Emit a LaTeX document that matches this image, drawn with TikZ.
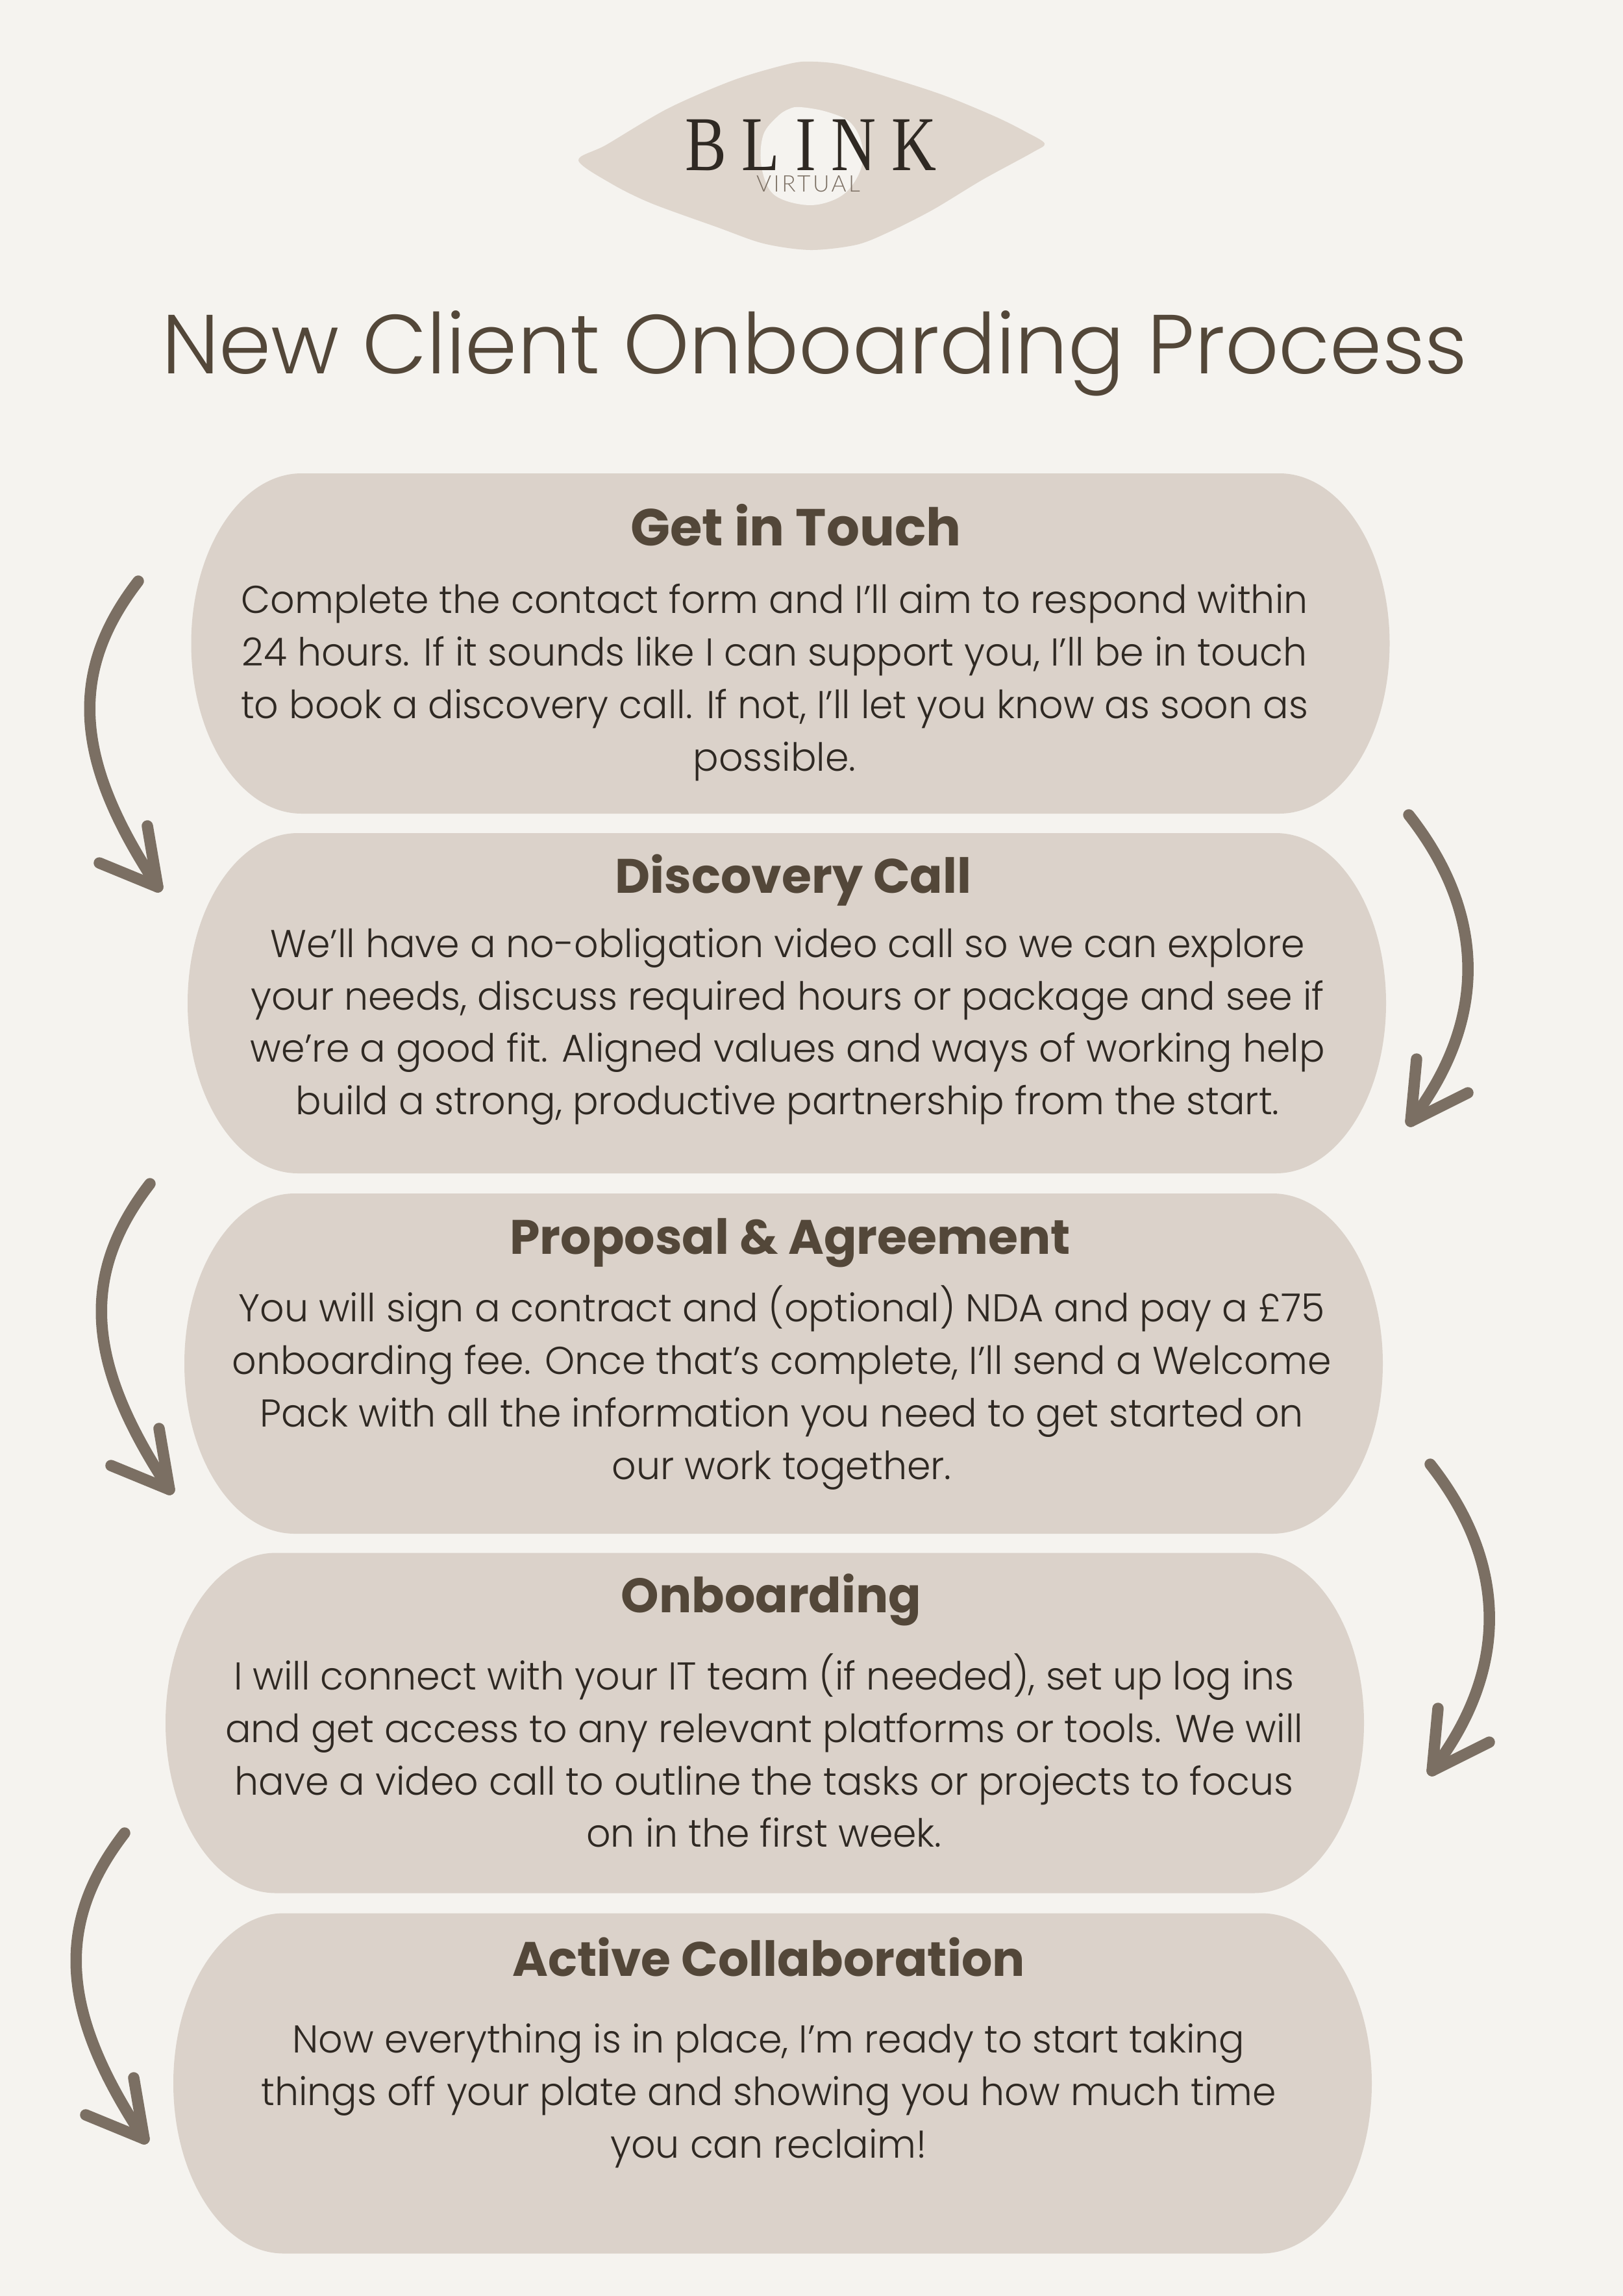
\documentclass[tikz,border=0pt]{standalone}
\usepackage{fontspec}
\usepackage{xcolor}
\usepackage{tikz}
\setmainfont[FakeStretch=0.98]{Poppins Light}
\newfontfamily\titlefont{Poppins Light}
\newfontfamily\headfont{Poppins}
\newfontfamily\logofont[LetterSpace=20,FakeStretch=0.80]{Liberation Serif}
\newfontfamily\subfont[LetterSpace=10]{Lato Light}
\definecolor{paper}{HTML}{F5F3EF}
\definecolor{pillcol}{HTML}{DBD2CA}
\definecolor{eyecol}{HTML}{DFD6CD}
\definecolor{arrowcol}{HTML}{7B6F63}
\definecolor{bodycol}{HTML}{2F2923}
\definecolor{headcol}{HTML}{534739}
\tikzset{
  pillbox/.style={minimum width=18.46cm, minimum height=5.24cm, inner sep=0pt, outer sep=0pt},
  headtext/.style={text=headcol, font=\headfont\bfseries\fontsize{21.2}{26}\selectfont},
  bodytext/.style={text=bodycol, align=center, font=\fontsize{17}{23}\selectfont},
  flowline/.style={draw=arrowcol, line width=0.175cm, line cap=round, line join=round},
  leftarrow/.pic={
    \draw[flowline] (0,0) .. controls (-1.12,-1.45) and (-0.95,-2.82) .. (0.30,-4.71);
    \draw[flowline] (0.14,-3.77) -- (0.30,-4.71) -- (-0.60,-4.34);
  },
  rightarrow/.pic={
    \draw[flowline] (0,0) .. controls (1.18,-1.50) and (1.24,-3.14) .. (0.03,-4.72);
    \draw[flowline] (0.12,-3.76) -- (0.03,-4.72) -- (0.91,-4.28);
  }
}
% elliptical ends on the named box
\newcommand{\fillpill}[1]{
  \fill[pillcol] ([xshift=1.7cm]#1.north west) -- ([xshift=-1.7cm]#1.north east)
    arc[start angle=90, end angle=-90, x radius=1.7, y radius=2.62]
    -- ([xshift=1.7cm]#1.south west)
    arc[start angle=270, end angle=90, x radius=1.7, y radius=2.62] -- cycle;
}
\begin{document}
\begin{tikzpicture}
	\useasboundingbox (0,0) rectangle (25,-35.36);
	\fill[paper] (0,0) rectangle (25,-35.36);
	% Logo
	\fill[eyecol] plot[smooth cycle, tension=0.5] coordinates {(8.91,-2.47) (9.34,-2.23) (10.29,-1.67) (11.31,-1.23) (12.17,-0.98) (12.53,-0.95) (12.99,-1.00) (13.81,-1.23) (14.57,-1.48) (15.34,-1.80) (15.80,-2.03) (16.09,-2.21) (15.90,-2.35) (15.13,-2.77) (14.37,-3.23) (13.70,-3.57) (13.19,-3.77) (12.48,-3.85) (11.76,-3.75) (11.05,-3.50) (10.03,-3.13) (9.42,-2.83)};
	\fill[paper] plot[smooth cycle, tension=0.6] coordinates {(12.33,-1.65) (12.73,-1.72) (13.09,-1.88) (13.27,-2.20) (13.27,-2.57) (13.09,-2.90) (12.84,-3.08) (12.48,-3.16) (12.07,-3.08) (11.84,-2.90) (11.72,-2.50) (11.76,-2.07) (11.97,-1.80) (12.15,-1.68)};
	\node[text=bodycol, inner sep=0pt, font=\logofont\fontsize{34}{34}\selectfont] (logoname) at (12.49,-2.24) {BLINK};
	\node[text=arrowcol, inner sep=0pt, font=\subfont\fontsize{10}{10}\selectfont] (logosub) at (12.45,-2.83) {VIRTUAL};
	% Titulo
	\node[text=headcol, font=\titlefont\fontsize{36.7}{44}\selectfont] (title) at (12.55,-5.44) {New Client Onboarding Process};
	% Cajas
	\node[pillbox] (pill1) at (12.175,-9.91) {};
	\node[pillbox] (pill2) at (12.12,-15.45) {};
	\node[pillbox] (pill3) at (12.07,-21.00) {};
	\node[pillbox] (pill4) at (11.78,-26.535) {};
	\node[pillbox] (pill5) at (11.90,-32.085) {};
	\fillpill{pill1}
	\fillpill{pill2}
	\fillpill{pill3}
	\fillpill{pill4}
	\fillpill{pill5}
	% Textos
	\node[headtext, font=\headfont\bfseries\fontsize{22.8}{26}\selectfont] (head1) at (12.26,-8.09) {Get in Touch};
	\node[bodytext] (body1) at (11.93,-10.51) {Complete the contact form and I’ll aim to respond within\\24 hours. If it sounds like I can support you, I’ll be in touch\\to book a discovery call. If not, I’ll let you know as soon as\\possible.};
	\node[headtext] (head2) at (12.22,-13.56) {Discovery Call};
	\node[bodytext] (body2) at (12.13,-15.81) {We’ll have a no-obligation video call so we can explore\\your needs, discuss required hours or package and see if\\we’re a good fit. Aligned values and ways of working help\\build a strong, productive partnership from the start.};
	\node[headtext] (head3) at (12.17,-19.14) {Proposal \& Agreement};
	\node[bodytext] (body3) at (12.04,-21.37) {You will sign a contract and (optional) NDA and pay a £75\\onboarding fee. Once that’s complete, I’ll send a Welcome\\Pack with all the information you need to get started on\\our work together.};
	\node[headtext] (head4) at (11.88,-24.64) {Onboarding};
	\node[bodytext] (body4) at (11.77,-26.96) {I will connect with your IT team (if needed), set up log ins\\and get access to any relevant platforms or tools. We will\\have a video call to outline the tasks or projects to focus\\on in the first week.};
	\node[headtext] (head5) at (11.84,-30.14) {Active Collaboration};
	\node[bodytext] (body5) at (11.84,-32.28) {Now everything is in place, I’m ready to start taking\\things off your plate and showing you how much time\\you can reclaim!};
	% Flechas
	\coordinate (arrow1) at (2.13,-8.95);
	\coordinate (arrow2) at (21.70,-12.55);
	\coordinate (arrow3) at (2.31,-18.23);
	\coordinate (arrow4) at (22.03,-22.55);
	\coordinate (arrow5) at (1.92,-28.23);
	\pic at (arrow1) {leftarrow};
	\pic at (arrow2) {rightarrow};
	\pic at (arrow3) {leftarrow};
	\pic at (arrow4) {rightarrow};
	\pic at (arrow5) {leftarrow};
\end{tikzpicture}
\end{document}
